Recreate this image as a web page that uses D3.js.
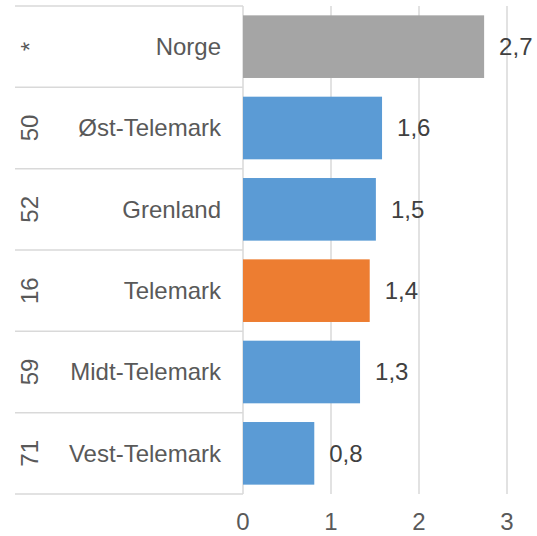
<!DOCTYPE html>
<html><head><meta charset="utf-8">
<script src="https://cdn.jsdelivr.net/npm/d3@7"></script>
<style>body{margin:0;background:#fff}svg{display:block}</style>
</head><body>
<script>
const regions = ["Norge","Øst-Telemark","Grenland","Telemark","Midt-Telemark","Vest-Telemark"];
const ranks = ["*","50","52","16","59","71"];
const values = [2.74,1.58,1.51,1.44,1.33,0.81];
const valueLabels = ["2,7","1,6","1,5","1,4","1,3","0,8"];
const barColors = ["#A5A5A5","#5B9BD5","#5B9BD5","#ED7D31","#5B9BD5","#5B9BD5"];
const ticks = [0,1,2,3];

const W=537,H=536;
const svg=d3.select("body").append("svg").attr("width",W).attr("height",H);
const font="'Liberation Sans', Arial, Helvetica, sans-serif";
const fs=24;
const x=d3.scaleLinear().domain([0,3]).range([243,507]);
const y=d3.scaleBand().domain(regions).range([6,494]).paddingInner(0.23).paddingOuter(0.115);
const rowH=(494-6)/regions.length;
const grid="#D9D9D9";

svg.append("g").selectAll("line").data(ticks).join("line")
 .attr("x1",d=>x(d)).attr("x2",d=>x(d)).attr("y1",6).attr("y2",494)
 .attr("stroke",grid).attr("stroke-width",1.5);
svg.append("g").selectAll("line").data(d3.range(regions.length+1)).join("line")
 .attr("x1",15).attr("x2",x(0)).attr("y1",i=>6+i*rowH).attr("y2",i=>6+i*rowH)
 .attr("stroke",grid).attr("stroke-width",1.5);

svg.append("g").selectAll("rect").data(regions).join("rect")
 .attr("x",x(0)).attr("y",d=>y(d)).attr("width",(d,i)=>x(values[i])-x(0))
 .attr("height",y.bandwidth()).attr("fill",(d,i)=>barColors[i]);

svg.append("g").selectAll("text").data(regions).join("text")
 .attr("x",(d,i)=>x(values[i])+15).attr("y",d=>y(d)+y.bandwidth()/2)
 .attr("dy","0.35em").attr("font-family",font).attr("font-size",fs).attr("fill","#404040")
 .text((d,i)=>valueLabels[i]);

svg.append("g").selectAll("text").data(regions).join("text")
 .attr("x",221).attr("y",(d,i)=>6+(i+0.5)*rowH).attr("dy","0.35em")
 .attr("text-anchor","end").attr("font-family",font).attr("font-size",fs).attr("fill","#595959")
 .text(d=>d);

svg.append("g").selectAll("text").data(ranks).join("text")
 .attr("transform",(d,i)=>`translate(30,${6+(i+0.5)*rowH}) rotate(-90)`)
 .attr("dy","0.35em").attr("text-anchor","middle").attr("font-family",font).attr("font-size",fs).attr("fill","#595959")
 .text(d=>d);

svg.append("g").selectAll("text").data(ticks).join("text")
 .attr("x",d=>x(d)).attr("y",522).attr("dy","0.35em").attr("text-anchor","middle")
 .attr("font-family",font).attr("font-size",fs).attr("fill","#595959").text(d=>d);
</script>
</body></html>
